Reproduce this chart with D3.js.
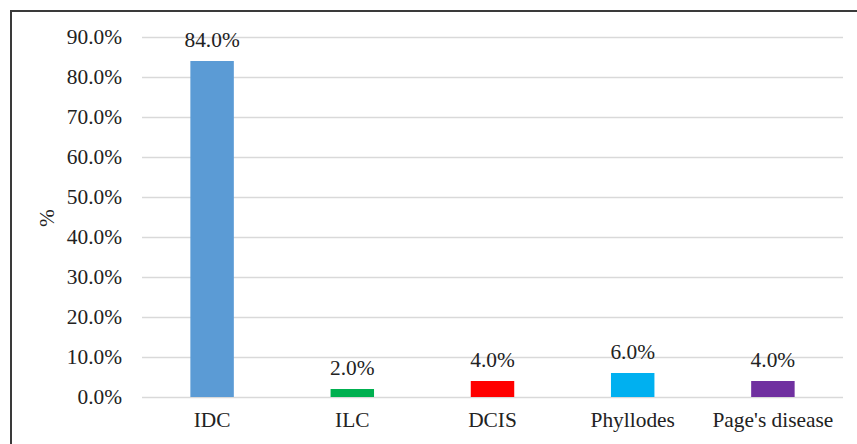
<!DOCTYPE html>
<html><head><meta charset="utf-8">
<script src="https://cdn.jsdelivr.net/npm/d3@7"></script>
<style>body{margin:0;background:#fff}svg{display:block}</style>
</head><body>
<svg id="c" width="857" height="444"></svg>
<script>
const categories = ["IDC", "ILC", "DCIS", "Phyllodes", "Page's disease"];
const values = [84.0, 2.0, 4.0, 6.0, 4.0];
const colors = ["#5B9BD5", "#00B050", "#FF0000", "#00B0F0", "#7030A0"];
const yTicks = [0, 10, 20, 30, 40, 50, 60, 70, 80, 90];
const yTitle = "%";

(function () {
const svg = d3.select("#c");
const font = "'Liberation Serif','Times New Roman',serif";
const fs = 21.4;
svg.append("rect").attr("x", 11).attr("y", 11).attr("width", 860).attr("height", 450)
  .attr("fill", "none").attr("stroke", "#3a3a3a").attr("stroke-width", 2);

const mL = 142, mR = 843, mT = 37, mB = 397;
const x = d3.scaleBand().domain(categories).range([mL, mR]).paddingInner(0.69).paddingOuter(0.345);
const y = d3.scaleLinear().domain([0, 90]).range([mB, mT]);

const yAxis = svg.append("g").attr("transform", `translate(${mL},0)`)
  .call(d3.axisLeft(y).tickValues(yTicks).tickSize(-(mR - mL)).tickPadding(20).tickFormat(d => d.toFixed(1) + "%"));
yAxis.select(".domain").remove();
yAxis.selectAll("line").attr("stroke", "#d9d9d9").attr("stroke-width", 1.5);
yAxis.selectAll("text").attr("font-family", font).attr("font-size", fs).attr("fill", "#222");

const xAxis = svg.append("g").attr("transform", `translate(0,${mB})`)
  .call(d3.axisBottom(x).tickSize(0).tickPadding(15));
xAxis.select(".domain").remove();
xAxis.selectAll("text").attr("font-family", font).attr("font-size", fs).attr("fill", "#222");

svg.selectAll(".bar").data(values).join("rect").attr("class", "bar")
  .attr("x", (d, i) => x(categories[i])).attr("width", x.bandwidth())
  .attr("y", d => y(d)).attr("height", d => y(0) - y(d))
  .attr("fill", (d, i) => colors[i]);

svg.selectAll(".lbl").data(values).join("text").attr("class", "lbl")
  .attr("x", (d, i) => x(categories[i]) + x.bandwidth() / 2).attr("y", d => y(d) - 14)
  .attr("text-anchor", "middle").attr("font-family", font).attr("font-size", fs).attr("fill", "#222")
  .text(d => d.toFixed(1) + "%");

svg.append("text").attr("transform", "translate(54,218) rotate(-90)")
  .attr("text-anchor", "middle").attr("font-family", font).attr("font-size", fs).attr("fill", "#222")
  .text(yTitle);
})();
</script>
</body></html>
